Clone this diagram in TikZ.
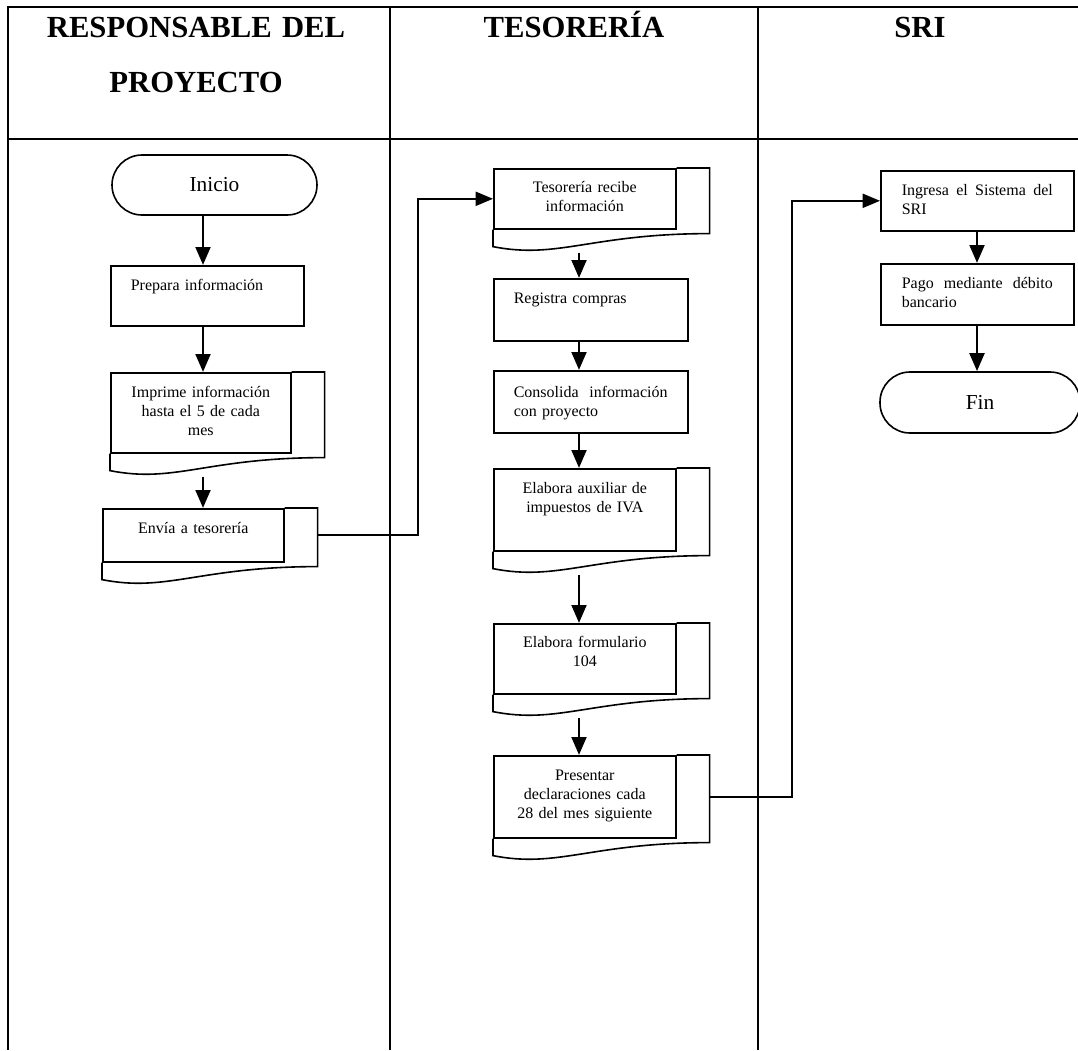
\documentclass[tikz,border=0pt]{standalone}
\usepackage{fontspec}
\setmainfont{Liberation Serif}
\usetikzlibrary{arrows.meta}
\tikzset{
  flowarrow/.style={-{Triangle[length=13.5pt,width=11pt]},line width=2.2pt},
  elbow/.style={-{Triangle[length=13pt,width=10.5pt]},line width=1.5pt},
  procbox/.style={draw,line width=1.2pt,rectangle,anchor=north west,inner ysep=0pt,font=\fontsize{12}{14.25}\selectfont},
  termbox/.style={draw,line width=1.2pt,rectangle,rounded corners=22.5pt,minimum height=45pt,font=\fontsize{16}{19}\selectfont},
  lanehead/.style={anchor=base,align=center,text width=270pt,font=\fontsize{23}{41.25}\selectfont\bfseries},
  laneline/.style={line width=1.6pt}
}
\newcommand{\docshape}[1]{%
  \draw[line width=1.2pt] (#1.north east) -- ([xshift=24.75pt]#1.north east)
    -- ([xshift=24.75pt,yshift=-3pt]#1.south east)
    .. controls +(-118,0) and +(65,13) .. ([yshift=-12.75pt]#1.south west)
    -- (#1.south west);
  \coordinate (#1-o) at ([xshift=24.75pt]#1.east);
  \coordinate (#1-b) at ([yshift=-17.25pt]#1.south);
}

\begin{document}
\begin{tikzpicture}[x=0.75pt,y=-0.75pt]
	\useasboundingbox (0,0) rectangle (1078,1050);
	\draw[laneline] (8,1050) -- (8,7) -- (1078,7);
	\draw[laneline] (8,139) -- (1078,139);
	\draw[laneline] (390,7) -- (390,1050);
	\draw[laneline] (758,7) -- (758,1050);
	\node[lanehead] (hresp) at (196,37) {RESPONSABLE DEL\\PROYECTO};
	\node[lanehead] (htes) at (574,37) {TESORERÍA};
	\node[lanehead] (hsri) at (920,37) {SRI};

	\coordinate (colA) at (203,0);
	\coordinate (colB) at (579,0);
	\coordinate (colC) at (977,0);
	\coordinate (jogA) at (418,0);
	\coordinate (jogB) at (792,0);

	\node[termbox,minimum width=153.75pt] (ini) at (214.5,185) {Inicio};
	\node[procbox,text width=114.75pt,inner xsep=15pt,align=left,text height=18.75pt,text depth=26.25pt] (prep) at (110,265) {Prepara información};
	\node[procbox,text width=112.5pt,inner xsep=11.25pt,align=center,text height=18.75pt,text depth=41.25pt] (impr) at (110,372) {Imprime información\\hasta el 5 de cada\\mes};
	\docshape{impr}
	\node[procbox,text width=113.25pt,inner xsep=11.25pt,align=center,text height=18.75pt,text depth=21pt] (env) at (102,508) {Envía a tesorería};
	\docshape{env}

	\node[procbox,text width=114pt,inner xsep=11.25pt,align=center,text height=18pt,text depth=27pt] (tes) at (493,168) {Tesorería recibe\\información};
	\docshape{tes}
	\node[procbox,text width=115.5pt,inner xsep=15pt,align=left,text height=18.75pt,text depth=27.75pt] (reg) at (493,278) {Registra compras};
	\node[procbox,text width=115.5pt,inner xsep=15pt,align=left,text height=20.25pt,text depth=26.25pt] (cons) at (493,370) {Consolida~~información\\con proyecto};
	\node[procbox,text width=114pt,inner xsep=11.25pt,align=center,text height=18.75pt,text depth=42.75pt] (aux) at (493,468) {Elabora auxiliar de\\impuestos de IVA};
	\docshape{aux}
	\node[procbox,text width=114pt,inner xsep=11.25pt,align=center,text height=18pt,text depth=34.5pt] (form) at (493,623) {Elabora formulario\\104};
	\docshape{form}
	\node[procbox,text width=114pt,inner xsep=11.25pt,align=center,text height=18.75pt,text depth=42.75pt] (pres) at (493,755) {Presentar\\declaraciones cada\\28 del mes siguiente};
	\docshape{pres}

	\node[procbox,text width=113.25pt,inner xsep=15.75pt,align=justify,text height=18.75pt,text depth=26.25pt] (ing) at (880,170) {Ingresa el Sistema del SRI};
	\node[procbox,text width=113.25pt,inner xsep=15.75pt,align=justify,text height=18.75pt,text depth=27pt] (pago) at (880,263) {Pago mediante débito bancario};
	\node[termbox,minimum width=150pt,minimum height=45.75pt] (fin) at (980,402.5) {Fin};

	\draw[flowarrow] (ini.south -| colA) -- (prep.north -| colA);
	\draw[flowarrow] (prep.south -| colA) -- (impr.north -| colA);
	\draw[flowarrow] (impr-b -| colA) -- (env.north -| colA);
	\draw[elbow] (env-o) -| (jogA |- tes.west) -- (tes.west);
	\draw[flowarrow] (tes-b -| colB) -- (reg.north -| colB);
	\draw[flowarrow] (reg.south -| colB) -- (cons.north -| colB);
	\draw[flowarrow] (cons.south -| colB) -- (aux.north -| colB);
	\draw[flowarrow] (aux-b -| colB) -- (form.north -| colB);
	\draw[flowarrow] (form-b -| colB) -- (pres.north -| colB);
	\draw[elbow] (pres-o) -| (jogB |- ing.west) -- (ing.west);
	\draw[flowarrow] (ing.south -| colC) -- (pago.north -| colC);
	\draw[flowarrow] (pago.south -| colC) -- (fin.north -| colC);
\end{tikzpicture}
\end{document}
